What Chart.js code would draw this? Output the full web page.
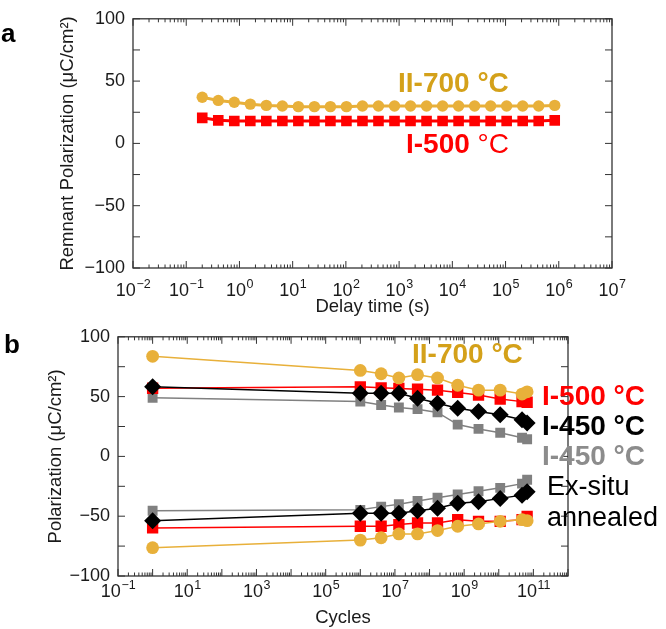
<!DOCTYPE html>
<html>
<head>
<meta charset="utf-8">
<script src="https://cdn.jsdelivr.net/npm/chart.js@4/dist/chart.umd.min.js"></script>
<style>
  body { margin: 0; background: #fff; width: 666px; height: 629px; overflow: hidden; position: relative; }
  canvas { position: absolute; left: 0; }
  #chartA { top: 0; }
  #chartB { top: 318px; }
</style>
</head>
<body>
<canvas id="chartA" width="666" height="318"></canvas>
<canvas id="chartB" width="666" height="311"></canvas>
<script>
// Panel a: retention vs delay time
const delayTime = [0.2, 0.4, 0.8, 1.6, 3.2, 6.4, 12.8, 25.6, 51.2, 102.4, 204.8, 409.6, 819.2,
  1638, 3277, 6554, 13107, 26214, 52429, 104858, 209715, 419430, 838861];
const retention700 = [37, 34.5, 33, 31.5, 30.5, 30, 29.5, 29.5, 29.5, 29.5, 30, 30, 30,
  30, 30, 30, 30, 30, 30, 30, 30, 30, 30.5];
const retention500 = [20.5, 18.5, 18, 18, 18, 18, 18, 18, 18, 18, 18, 18, 18,
  18, 18, 18, 18, 18, 18, 18, 18, 18, 18.5];
const delayTicks = [1e-2, 1e-1, 1e0, 1e1, 1e2, 1e3, 1e4, 1e5, 1e6, 1e7];

// Panel b: endurance vs cycles
const cycles = [1, 1e6, 4e6, 1.3e7, 4.5e7, 1.7e8, 6.5e8, 2.6e9, 1.1e10, 4.7e10, 6.6e10];
const pos700 = [83.7, 71.9, 69.1, 65.6, 68.3, 65.6, 59.5, 55.4, 55.4, 52.1, 54];
const neg700 = [-76.3, -70, -68, -64.8, -64.8, -62, -58.4, -56.5, -54.3, -52.9, -53.7];
const pos500 = [57, 58.2, 57.3, 56.8, 56.2, 55.4, 53.5, 51.3, 48, 45.8, 45.3];
const neg500 = [-59.8, -58.4, -58.4, -57, -55.7, -55.7, -52.9, -54.3, -54.3, -52.9, -50.2];
const pos450 = [58.2, 52.7, 52.7, 52.7, 48.6, 44.4, 40.3, 37.6, 34.8, 30.7, 28];
const neg450 = [-53.8, -47.5, -47.5, -47.5, -45.5, -43.3, -39.2, -37.9, -35.1, -32.4, -29.6];
const posExsitu = [49, 45.8, 43, 40.9, 39.5, 36.8, 26.6, 23, 19.8, 15.6, 14.3];
const negExsitu = [-45.5, -44.7, -42, -40, -37.3, -34.6, -31.8, -29.1, -26.3, -22.8, -19.5];
const cycleTicks = [1e-1, 1e1, 1e3, 1e5, 1e7, 1e9, 1e11];

const FONT = "'Liberation Sans', Arial, sans-serif";
const GOLD = '#e8b03a';
const GOLD_TEXT = '#d4a11a';
const RED = '#ff0000';
const GRAY = '#808080';
const TEXT = '#1a1a1a';

function pts(xs, ys) {
    return xs.map((x, i) => ({ x: x, y: ys[i] }));
}

// Frame plus inward ticks on all four sides
const framePlugin = {
    id: 'frame',
    afterDraw(chart) {
        const { ctx, chartArea: a, scales } = chart;
        const xs = scales.x, ys = scales.y;
        ctx.save();
        ctx.strokeStyle = '#333';
        ctx.lineWidth = 1.3;
        ctx.strokeRect(a.left, a.top, a.right - a.left, a.bottom - a.top);
        ctx.lineWidth = 1;
        ctx.beginPath();
        const d0 = Math.round(Math.log10(xs.min)), d1 = Math.round(Math.log10(xs.max));
        for (let d = d0; d <= d1; d++) {
            for (let k = 1; k <= 9; k++) {
                const v = k * Math.pow(10, d);
                if (v > xs.max * 1.0001) break;
                const px = xs.getPixelForValue(v);
                const len = k === 1 ? 7 : 3.5;
                ctx.moveTo(px, a.bottom); ctx.lineTo(px, a.bottom - len);
                ctx.moveTo(px, a.top); ctx.lineTo(px, a.top + len);
            }
        }
        for (let v = -100; v <= 100; v += 25) {
            const py = ys.getPixelForValue(v);
            ctx.moveTo(a.left, py); ctx.lineTo(a.left + 7, py);
            ctx.moveTo(a.right, py); ctx.lineTo(a.right - 7, py);
        }
        ctx.stroke();

        // power-of-ten labels with a raised exponent
        const base = chart.options.plugins.frame.labelBaseline;
        ctx.fillStyle = TEXT;
        ctx.textBaseline = 'alphabetic';
        ctx.textAlign = 'left';
        xs.ticks.forEach(t => {
            const px = xs.getPixelForValue(t.value);
            const exp = String(Math.round(Math.log10(t.value))).replace('-', '\u2212');
            ctx.font = `18px ${FONT}`;
            const w1 = ctx.measureText('10').width;
            ctx.font = `12.5px ${FONT}`;
            const w2 = ctx.measureText(exp).width;
            const x0 = px - (w1 + w2) / 2;
            ctx.font = `18px ${FONT}`;
            ctx.fillText('10', x0, a.bottom + base);
            ctx.font = `12.5px ${FONT}`;
            ctx.fillText(exp, x0 + w1 + 0.5, a.bottom + base - 8);
        });
        ctx.restore();
    }
};

// Free text labels (series names, panel letters)
const notesPlugin = {
    id: 'notes',
    afterDraw(chart, args, opts) {
        const ctx = chart.ctx;
        ctx.save();
        ctx.textBaseline = 'alphabetic';
        ctx.textAlign = 'left';
        (opts.items || []).forEach(item => {
            let x = item.x;
            item.parts.forEach(p => {
                ctx.font = p.font;
                ctx.fillStyle = p.color;
                ctx.fillText(p.text, x, item.y);
                x += ctx.measureText(p.text).width;
            });
        });
        ctx.restore();
    }
};

function logAxis(min, max, ticks, title, titlePad, height) {
    return {
        type: 'logarithmic',
        min: min,
        max: max,
        afterBuildTicks: s => { s.ticks = ticks.map(v => ({ value: v })); },
        afterFit: s => { s.height = height; },
        grid: { display: false, drawTicks: false },
        border: { display: false },
        ticks: { display: false },
        title: {
            display: true,
            text: title,
            color: TEXT,
            font: { family: FONT, size: 18.5 },
            padding: { top: 0, bottom: titlePad }
        }
    };
}

function polAxis(title, width, titlePad) {
    return {
        type: 'linear',
        min: -100,
        max: 100,
        afterBuildTicks: s => { s.ticks = [-100, -50, 0, 50, 100].map(v => ({ value: v })); },
        afterFit: s => { s.width = width; },
        grid: { display: false, drawTicks: false },
        border: { display: false },
        ticks: {
            padding: 8,
            color: TEXT,
            font: { family: FONT, size: 18 },
            callback: v => String(v).replace('-', '\u2212')
        },
        title: {
            display: true,
            text: title,
            color: TEXT,
            font: { family: FONT, size: 18.5 },
            padding: { top: titlePad, bottom: 0 }
        }
    };
}

function series(label, xs, ys, color, style, radius, lineWidth) {
    return {
        label: label,
        data: pts(xs, ys),
        borderColor: color,
        backgroundColor: color,
        pointBackgroundColor: color,
        pointBorderColor: color,
        pointBorderWidth: 0,
        pointStyle: style,
        pointRadius: radius,
        borderWidth: lineWidth,
        tension: 0
    };
}

const boldFont = size => `bold ${size}px ${FONT}`;
const regFont = size => `${size}px ${FONT}`;

new Chart(document.getElementById('chartA'), {
    type: 'line',
    data: {
        datasets: [
            series('II-700 °C', delayTime, retention700, GOLD, 'circle', 5.7, 3),
            series('I-500 °C', delayTime, retention500, RED, 'rect', 7.5, 3)
        ]
    },
    options: {
        responsive: false,
        animation: false,
        devicePixelRatio: 1,
        layout: { padding: { left: 0, right: 54, top: 11, bottom: 0 } },
        plugins: {
            legend: { display: false },
            tooltip: { enabled: false },
            frame: { labelBaseline: 28 },
            notes: {
                items: [
                    { x: 1, y: 42, parts: [{ text: 'a', font: boldFont(26), color: '#000' }] },
                    { x: 398, y: 92, parts: [{ text: 'II-700 °C', font: boldFont(28), color: GOLD_TEXT }] },
                    { x: 406, y: 153, parts: [
                        { text: 'I-500 ', font: boldFont(28), color: RED },
                        { text: '°C', font: regFont(28), color: RED }
                    ] }
                ]
            }
        },
        scales: {
            x: logAxis(1e-2, 1e7, delayTicks, 'Delay time (s)', 0, 50),
            y: polAxis('Remnant Polarization (μC/cm²)', 133, 57)
        }
    },
    plugins: [framePlugin, notesPlugin]
});

new Chart(document.getElementById('chartB'), {
    type: 'line',
    data: {
        datasets: [
            series('II-700 °C +', cycles, pos700, GOLD, 'circle', 6.4, 1.5),
            series('II-700 °C −', cycles, neg700, GOLD, 'circle', 6.4, 1.5),
            series('I-450 °C +', cycles, pos450, '#000', 'rectRot', 8.5, 1.5),
            series('I-450 °C −', cycles, neg450, '#000', 'rectRot', 8.5, 1.5),
            series('I-500 °C +', cycles, pos500, RED, 'rect', 8, 1.5),
            series('I-500 °C −', cycles, neg500, RED, 'rect', 8, 1.5),
            series('Ex-situ +', cycles, posExsitu, GRAY, 'rect', 7, 1.5),
            series('Ex-situ −', cycles, negExsitu, GRAY, 'rect', 7, 1.5)
        ]
    },
    options: {
        responsive: false,
        animation: false,
        devicePixelRatio: 1,
        layout: { padding: { left: 0, right: 98, top: 15, bottom: 0 } },
        plugins: {
            legend: { display: false },
            tooltip: { enabled: false },
            frame: { labelBaseline: 21 },
            notes: {
                items: [
                    { x: 4, y: 35, parts: [{ text: 'b', font: boldFont(26), color: '#000' }] },
                    { x: 412, y: 45, parts: [{ text: 'II-700 °C', font: boldFont(28), color: GOLD_TEXT }] },
                    { x: 542, y: 87, parts: [{ text: 'I-500 °C', font: boldFont(28), color: RED }] },
                    { x: 542, y: 117, parts: [{ text: 'I-450 °C', font: boldFont(28), color: '#000' }] },
                    { x: 542, y: 147, parts: [{ text: 'I-450 °C', font: boldFont(28), color: '#8c8c8c' }] },
                    { x: 547, y: 177, parts: [{ text: 'Ex-situ', font: regFont(27), color: '#000' }] },
                    { x: 547, y: 208, parts: [{ text: 'annealed', font: regFont(27), color: '#000' }] }
                ]
            }
        },
        scales: {
            x: logAxis(1e-1, 1e12, cycleTicks, 'Cycles', 0, 53),
            y: polAxis('Polarization (μC/cm²)', 118, 45)
        }
    },
    plugins: [framePlugin, notesPlugin]
});
</script>
</body>
</html>
